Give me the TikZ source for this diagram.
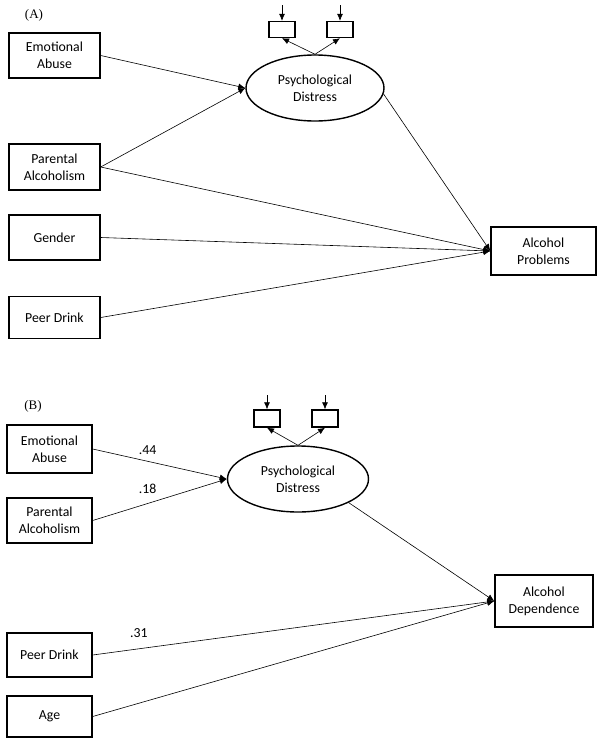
\documentclass[tikz,border=0pt]{standalone}
\usepackage{fontspec}
\setmainfont{Carlito}
\newfontfamily\panelfont{Liberation Serif}
\usetikzlibrary{shapes,arrows.meta,positioning}

\begin{document}
\begin{tikzpicture}[x=1pt, y=-1pt,
    font=\fontsize{13.8}{17}\selectfont,
    var/.style={rectangle, draw, line width=1.4pt, inner sep=0pt, align=center},
    latent/.style={ellipse, draw, line width=1.4pt, inner sep=0pt, align=center},
    indic/.style={rectangle, draw, line width=1.4pt, inner sep=0pt, minimum width=26pt, minimum height=16pt},
    path/.style={-{Latex[length=7pt,width=6pt]}, line width=0.6pt},
    coef/.style={inner sep=0pt}]
    \useasboundingbox (0,0) rectangle (604,745);

    % panel A
    \node[font=\panelfont\fontsize{13}{15}\selectfont] (labA) at (34,15) {(A)};
    \node[var, minimum width=91pt, minimum height=45pt] (eaA) at (54.5,55.5) {Emotional\\Abuse};
    \node[var, minimum width=91pt, minimum height=46pt] (paA) at (54.5,167) {Parental\\Alcoholism};
    \node[var, minimum width=91pt, minimum height=45pt] (geA) at (54.5,237.5) {Gender};
    \node[var, minimum width=91pt, minimum height=42pt] (pdkA) at (54.5,317.5) {Peer Drink};
    \node[latent, minimum width=138pt, minimum height=66pt] (psA) at (315,88) {Psychological\\Distress};
    \node[var, minimum width=105pt, minimum height=48pt] (apA) at (543.5,251) {Alcohol\\Problems};
    \node[indic] (inA1) at (282,29.5) {};
    \node[indic] (inA2) at (340,29.5) {};
    \coordinate (eA1) at (282,5);
    \coordinate (eA2) at (340,5);

    \draw[path] (eA1) -- (inA1);
    \draw[path] (eA2) -- (inA2);
    \draw[path] (psA.north) -- (inA1.south);
    \draw[path] (psA.north) -- (inA2.south);
    \draw[path] (eaA.east) -- (psA.west);
    \draw[path] (paA.east) -- (psA.west);
    \draw[path] (paA.east) -- (apA.west);
    \draw[path] (geA.east) -- (apA.west);
    \draw[path] (pdkA.east) -- (apA.west);
    \draw[path] (psA.-5) -- (apA.west);

    % panel B
    \node[font=\panelfont\fontsize{13}{15}\selectfont] (labB) at (33,406) {(B)};
    \node[var, minimum width=85pt, minimum height=48pt] (eaB) at (49.5,449) {Emotional\\Abuse};
    \node[var, minimum width=85pt, minimum height=45pt] (paB) at (49.5,520.5) {Parental\\Alcoholism};
    \node[var, minimum width=85pt, minimum height=44pt] (pdkB) at (49.5,655) {Peer Drink};
    \node[var, minimum width=85pt, minimum height=41pt] (agB) at (49.5,716.5) {Age};
    \node[latent, minimum width=141pt, minimum height=66pt] (psB) at (298,479) {Psychological\\Distress};
    \node[var, minimum width=98pt, minimum height=52pt] (adB) at (544,601) {Alcohol\\Dependence};
    \node[indic, minimum height=17pt] (inB1) at (267,418.5) {};
    \node[indic, minimum height=17pt] (inB2) at (325,418.5) {};
    \coordinate (eB1) at (267,395);
    \coordinate (eB2) at (325,395);

    \draw[path] (eB1) -- (inB1);
    \draw[path] (eB2) -- (inB2);
    \draw[path] (psB.north) -- (inB1.south);
    \draw[path] (psB.north) -- (inB2.south);
    \draw[path] (eaB.east) -- (psB.west) node[coef, pos=0.41, above=6pt] {.44};
    \draw[path] (paB.east) -- (psB.west) node[coef, pos=0.41, above=10pt] {.18};
    \draw[path] (pdkB.east) -- (adB.west) node[coef, pos=0.115, above=11pt] {.31};
    \draw[path] (agB.east) -- (adB.west);
    \draw[path] (psB.-25) -- (adB.west);
\end{tikzpicture}
\end{document}
